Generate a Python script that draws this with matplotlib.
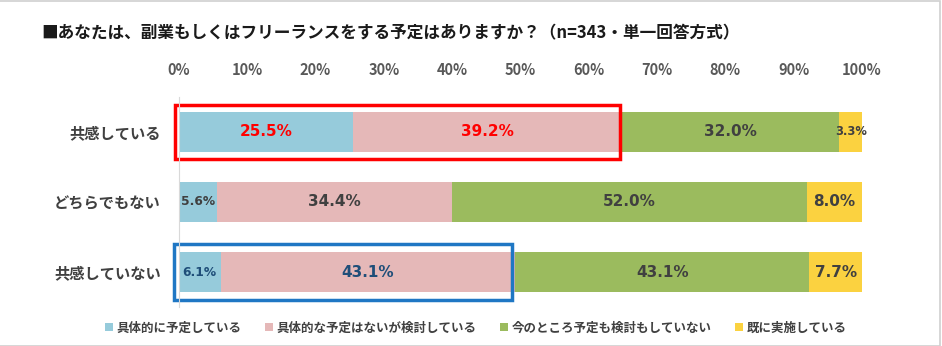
import matplotlib.pyplot as plt
from matplotlib.patches import Rectangle

plt.rcParams['font.family'] = ['Noto Sans CJK JP', 'DejaVu Sans']

# data
categories = ['共感している', 'どちらでもない', '共感していない']
series_names = ['具体的に予定している', '具体的な予定はないが検討している',
                '今のところ予定も検討もしていない', '既に実施している']
planned = [25.5, 5.6, 6.1]
considering = [39.2, 34.4, 43.1]
not_planned = [32.0, 52.0, 43.1]
already = [3.3, 8.0, 7.7]
ticks = [0, 10, 20, 30, 40, 50, 60, 70, 80, 90, 100]

colors = ['#96CBDB', '#E5B8B8', '#9BBB5E', '#FBD240']
text_dark = '#404040'

fig = plt.figure(figsize=(9.42, 3.46), dpi=100)
ax = fig.add_axes([0.19, 0.1127, 0.725, 0.607])

series = [planned, considering, not_planned, already]
y = list(range(len(categories)))
left = [0.0] * len(categories)
for k, (vals, col) in enumerate(zip(series, colors)):
    ax.barh(y, vals, left=left, height=0.58, color=col, label=series_names[k])
    for i, v in enumerate(vals):
        cx = left[i] + v / 2
        size = 11 if v >= 7 else 8.8
        if v < 4:
            size = 8.3
        c = text_dark
        if i == 0 and k < 2:
            c = '#FF0000'
        elif i == 2 and k < 2:
            c = '#1F4E79'
        ax.text(cx, i, f'{v:.1f}%', ha='center', va='center',
                fontsize=size, fontweight='bold', color=c, family='DejaVu Sans')
    left = [l + v for l, v in zip(left, vals)]

# highlight boxes
ax.add_patch(Rectangle((-0.6, -0.39), planned[0] + considering[0] + 0.5,
                       0.78, fill=False, edgecolor='#FF0000', lw=2.5, clip_on=False))
ax.add_patch(Rectangle((-0.7, 2 - 0.4), planned[2] + considering[2] + 0.3,
                       0.8, fill=False, edgecolor='#1F77C4', lw=2.5, clip_on=False))

ax.set_xlim(0, 100)
ax.set_ylim(2.5, -0.5)
ax.set_yticks(y)
ax.set_yticklabels(categories, fontsize=11, fontweight='bold', color=text_dark)
ax.set_xticks(ticks)
ax.set_xticklabels([f'{t}%' for t in ticks], fontsize=10.5, fontweight='bold',
                   color='#595959')
ax.xaxis.tick_top()
ax.tick_params(length=0, pad=14)
ax.tick_params(axis='y', pad=13)
for s in ['top', 'right', 'bottom']:
    ax.spines[s].set_visible(False)
ax.spines['left'].set_color('#D9D9D9')

fig.text(0.044, 0.905, '■あなたは、副業もしくはフリーランスをする予定はありますか？（n=343・単一回答方式）',
         fontsize=12, fontweight='bold', color='#1a1a1a', va='center')

ax.legend(loc='upper center', bbox_to_anchor=(0.435, -0.015), ncol=4, frameon=False,
          handlelength=0.6, handleheight=0.6, handletextpad=0.3,
          columnspacing=1.9, prop={'weight': 'bold', 'size': 9})
for t in ax.get_legend().get_texts():
    t.set_color(text_dark)

# light frame on the image
fig.add_artist(Rectangle((-0.01, 0.0), 1.008, 0.997, transform=fig.transFigure,
                         fill=False, edgecolor='#D0D0D0', lw=1.2))

fig.savefig('out.png', dpi=100, facecolor='white')
